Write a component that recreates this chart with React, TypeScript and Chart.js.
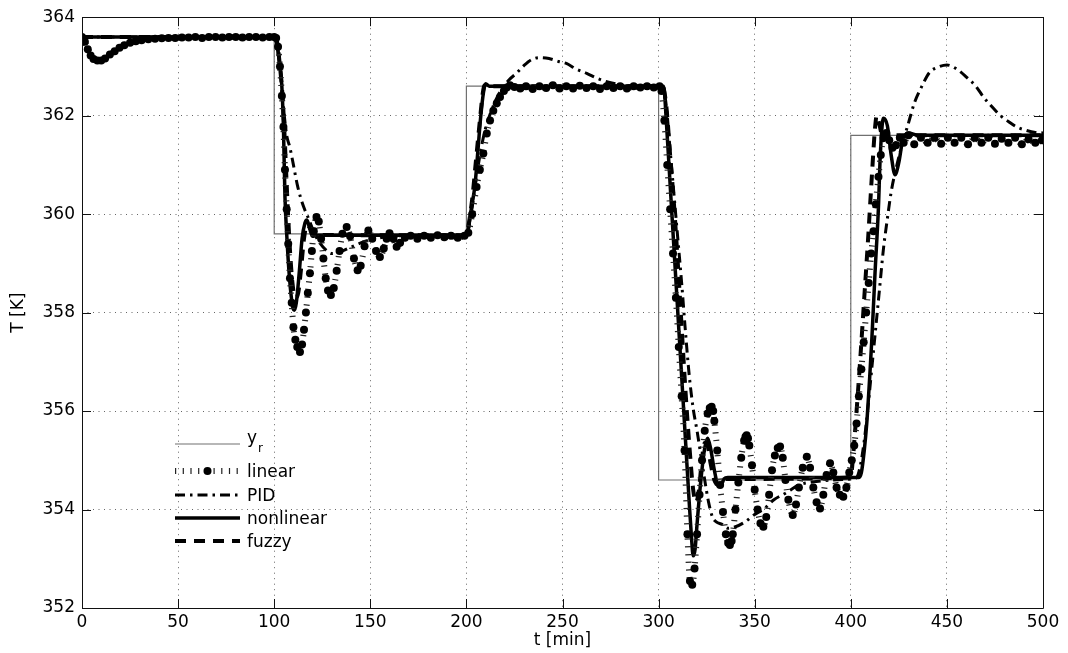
import React, { useEffect, useRef } from 'react';
import { Chart, registerables } from 'chart.js';

Chart.register(...registerables);

// ---------------- data (t [min], T [K]) ----------------
const X_MIN = 0;
const X_MAX = 500;
const X_STEP = 50;
const Y_MIN = 352;
const Y_MAX = 364;
const Y_STEP = 2;

const REFERENCE: [number, number][] = [
  [0, 363.6], [100, 363.6], [100, 359.6], [200, 359.6], [200, 362.6],
  [300, 362.6], [300, 354.6], [400, 354.6], [400, 361.6], [500, 361.6],
];

const LINEAR: [number, number][] = [
  [0, 363.6], [1.5, 363.5], [3, 363.35], [4.5, 363.22], [6, 363.15], [8, 363.12], [10, 363.12],
  [12, 363.16], [14.5, 363.24], [17, 363.31], [19.5, 363.38], [22, 363.43], [25, 363.48],
  [28, 363.51], [31, 363.53], [34.5, 363.55], [38, 363.56], [41.5, 363.57], [45, 363.58],
  [48.5, 363.58], [52, 363.59], [55.5, 363.59], [59, 363.6], [62.5, 363.58], [66, 363.6],
  [69.5, 363.6], [73, 363.59], [76.5, 363.6], [80, 363.6], [83.5, 363.59], [87, 363.6],
  [90.5, 363.6], [94, 363.59], [97.5, 363.6], [100, 363.6],
  [101, 363.58], [102, 363.4], [103, 363.0], [104, 362.4], [104.8, 361.77], [105.6, 360.9],
  [106.5, 360.1], [107.3, 359.4], [108.2, 358.7], [109.1, 358.2], [110, 357.7], [111, 357.45],
  [112, 357.3], [113.4, 357.2], [114.5, 357.35], [115.5, 357.65], [116.5, 358.0], [117.5, 358.4],
  [118.6, 358.8], [119.6, 359.25], [120.6, 359.65], [122, 359.94], [123.2, 359.85], [124.4, 359.5],
  [125.6, 359.1], [126.8, 358.7], [128, 358.45], [129.5, 358.36], [131, 358.5], [132.5, 358.85],
  [134, 359.25], [135.5, 359.6], [137.7, 359.74], [139.5, 359.55], [141.5, 359.1], [143.4, 358.86],
  [145, 358.95], [147, 359.35], [149, 359.67], [151, 359.5], [153, 359.25], [155, 359.13],
  [157, 359.3], [158.5, 359.5], [160, 359.61], [162, 359.5], [163.7, 359.34], [165.5, 359.42],
  [168, 359.52], [171, 359.56], [174.5, 359.5], [178, 359.56], [181.5, 359.52], [185, 359.57],
  [188.5, 359.53], [192, 359.56], [195.5, 359.52], [199, 359.56],
  [201, 359.62], [203, 360.0], [205.3, 360.55], [207, 360.9], [208.8, 361.23], [210.6, 361.64],
  [212.3, 361.9], [214, 362.1], [215.8, 362.25], [217.5, 362.38], [219.5, 362.5], [221, 362.57],
  [222.7, 362.62], [225, 362.58], [228, 362.55], [231, 362.6], [234.5, 362.54], [238, 362.6],
  [241.5, 362.56], [245, 362.62], [248.5, 362.55], [252, 362.6], [255.5, 362.55], [259, 362.61],
  [262.5, 362.56], [266, 362.6], [269.5, 362.54], [273, 362.6], [276.5, 362.56], [280, 362.6],
  [283.5, 362.55], [287, 362.6], [290.5, 362.57], [294, 362.6], [297.5, 362.57], [300.5, 362.6],
  [301.5, 362.5], [303, 361.9], [304.5, 361.0], [306, 360.1], [307.5, 359.2], [309, 358.3],
  [310.5, 357.3], [312, 356.3], [313.5, 355.2], [315, 353.5], [316.3, 352.55], [317.5, 352.47],
  [318.7, 352.8], [320, 353.5], [321.3, 354.3], [322.6, 355.0], [324, 355.6], [325.5, 355.95],
  [326.6, 356.06], [327.6, 356.09], [328.4, 356.0], [329, 355.8], [330.5, 355.2], [332, 354.5],
  [333.5, 353.95], [335, 353.5], [336.2, 353.32], [337.1, 353.28], [338, 353.36], [338.6, 353.5],
  [340, 354.0], [341.5, 354.55], [343, 355.05], [344.5, 355.4], [345.2, 355.48], [345.8, 355.51],
  [346.5, 355.45], [347.2, 355.3], [348.6, 354.9], [350, 354.4], [351.5, 354.0], [353, 353.72],
  [354.5, 353.65], [356, 353.85], [357.5, 354.3], [359, 354.8], [360.5, 355.1], [362, 355.25],
  [363.2, 355.28], [364.6, 355.05], [366, 354.6], [367.5, 354.2], [369.8, 353.89], [371.5, 354.1],
  [373, 354.45], [375, 354.85], [377.1, 355.07], [378.8, 354.85], [380.5, 354.45], [382.2, 354.15],
  [384, 354.02], [385.7, 354.3], [387.4, 354.7], [389.2, 354.94], [390.9, 354.75], [392.6, 354.45],
  [394.3, 354.3], [396.1, 354.26], [397.7, 354.45], [399.2, 354.75],
  [400.5, 355.0], [401.8, 355.3], [403, 355.75], [404.2, 356.3], [405.5, 356.85], [406.7, 357.4],
  [408, 358.0], [409.3, 358.6], [410.6, 359.2], [411.8, 359.65], [413, 360.2], [414.4, 360.76],
  [415.6, 361.2], [417, 361.55], [418.5, 361.65], [420, 361.5], [421.7, 361.35], [423.5, 361.4],
  [425.5, 361.55], [427.5, 361.45], [430, 361.6], [433, 361.42], [436.5, 361.55], [440, 361.45],
  [443.5, 361.55], [447, 361.43], [450.5, 361.55], [454, 361.45], [457.5, 361.55], [461, 361.42],
  [464.5, 361.55], [468, 361.45], [471.5, 361.55], [475, 361.43], [478.5, 361.53], [482, 361.45],
  [485.5, 361.55], [489, 361.42], [492.5, 361.52], [496, 361.45], [499.5, 361.5],
];

const PID: [number, number][] = [
  [0, 363.6], [100, 363.6], [101.5, 363.45], [103, 363.0], [104.5, 362.3], [106.5, 361.6],
  [108.2, 361.35], [110, 361.0], [112, 360.6], [114, 360.3], [116, 360.08], [118, 359.9],
  [121, 359.6], [124, 359.4], [127, 359.27], [130, 359.2], [134, 359.23], [140, 359.33],
  [146, 359.43], [155, 359.52], [165, 359.55], [200, 359.55],
  [202, 359.9], [204, 360.4], [206, 360.95], [208, 361.4], [210, 361.75], [213, 362.1],
  [217, 362.45], [222, 362.72], [226, 362.86], [230, 363.02], [234, 363.14], [238, 363.18],
  [243, 363.16], [248, 363.1], [252, 363.06], [257, 362.95], [262.6, 362.86], [268, 362.76],
  [273, 362.69], [279, 362.64], [285, 362.61], [292, 362.6], [300, 362.6],
  [302, 362.6], [304, 362.2], [306, 361.3], [308, 360.4], [310, 359.5], [312, 358.6],
  [314, 357.6], [316, 356.7], [318, 356.05], [320, 355.6], [322, 355.1], [324, 354.6],
  [326, 354.15], [328, 353.85], [330, 353.75], [333, 353.7], [336, 353.62], [340, 353.65],
  [345, 353.75], [350, 353.9], [355, 354.02], [360, 354.2], [366, 354.33], [373, 354.5],
  [380, 354.56], [390, 354.6], [400, 354.62],
  [403, 354.65], [405, 354.9], [407, 355.4], [409, 356.1], [411, 356.9], [413, 357.7],
  [415, 358.5], [417, 359.3], [419, 359.9], [421, 360.45], [424, 361.0], [427, 361.45],
  [430, 361.85], [433, 362.25], [437, 362.6], [441, 362.88], [445, 362.98], [450, 363.03],
  [455, 362.95], [460, 362.79], [465, 362.6], [469, 362.38], [473, 362.2], [477.6, 362.01],
  [482, 361.88], [486.3, 361.77], [491.5, 361.7], [496, 361.66], [500, 361.65],
];

const NONLINEAR: [number, number][] = [
  [0, 363.6], [100, 363.6], [101.3, 363.47], [102.5, 363.15], [103.9, 362.65], [104.8, 361.77],
  [105.6, 360.35], [106.5, 359.6], [107.9, 358.73], [109.6, 358.12], [110.5, 358.05],
  [111.5, 358.2], [113, 358.8], [114.5, 359.5], [116, 359.82], [117, 359.88], [118.5, 359.7],
  [120, 359.55], [122, 359.57], [200, 359.57],
  [201, 359.7], [202.5, 360.1], [204.5, 360.6], [206, 361.3], [207.5, 362.0], [209, 362.5],
  [210, 362.65], [212, 362.6], [300, 362.6],
  [302.6, 362.6], [304, 361.9], [306, 360.6], [308, 359.3], [310, 358.0], [312, 356.7],
  [314, 355.4], [316, 354.1], [317, 353.5], [318, 353.06], [319, 353.2], [320, 353.7],
  [322, 354.6], [324, 355.25], [325.5, 355.45], [327, 355.25], [329, 354.8], [331, 354.5],
  [332.5, 354.5], [334, 354.62], [336, 354.65], [404, 354.65],
  [405.5, 354.75], [407, 355.2], [408.3, 355.75], [410, 356.8], [411, 357.5], [412.6, 358.8],
  [414.4, 360.15], [415.3, 361.16], [417, 361.95], [419, 361.8], [421, 361.2], [423, 360.8],
  [425, 361.05], [427, 361.5], [430, 361.65], [435, 361.6], [500, 361.6],
];

const FUZZY: [number, number][] = [
  [0, 363.6], [100, 363.6], [101.5, 363.5], [103, 363.0], [104.5, 362.3], [105.5, 361.5],
  [106.5, 360.6], [108, 359.4], [109.5, 358.6], [111, 358.3], [112.5, 358.4], [114, 358.9],
  [115.5, 359.5], [117, 359.78], [119, 359.7], [121, 359.58], [200, 359.57],
  [201, 359.75], [203, 360.3], [205, 361.1], [207, 361.9], [208.5, 362.45], [209.5, 362.62],
  [211, 362.6], [300, 362.6],
  [302, 362.6], [304, 362.2], [306, 361.2], [308, 360.2], [310, 359.0], [312, 357.7],
  [314, 356.4], [316, 355.3], [318, 354.4], [319.5, 354.15], [321, 354.4], [322.5, 355.0],
  [324, 355.35], [325.5, 355.3], [327, 354.95], [329, 354.6], [331, 354.5], [334, 354.62],
  [400, 354.65],
  [401, 355.0], [403, 356.0], [405, 357.1], [407, 358.3], [409, 359.5], [411, 360.8],
  [412.5, 361.7], [413.5, 362.0], [415, 361.8], [417, 361.5], [419, 361.65], [422, 361.6],
  [500, 361.6],
];

const LEGEND_LABELS: [string, string][] = [
  ['y', 'r'], ['linear', ''], ['PID', ''], ['nonlinear', ''], ['fuzzy', ''],
];

const FONT = 'DejaVu Sans';

const toXY = (arr: [number, number][]) => arr.map(([x, y]) => ({ x, y }));

const framePlugin = {
  id: 'matlabFrame',
  afterDatasetsDraw(chart: any) {
    const { ctx, chartArea: a, scales } = chart;
    ctx.save();
    ctx.setLineDash([]);
    ctx.strokeStyle = '#111';
    ctx.lineWidth = 1;
    ctx.beginPath();
    ctx.rect(Math.round(a.left) + 0.5, Math.round(a.top) + 0.5,
      Math.round(a.right - a.left), Math.round(a.bottom - a.top));
    const L = 9;
    scales.x.ticks.forEach((t: any) => {
      const x = Math.round(scales.x.getPixelForValue(t.value)) + 0.5;
      ctx.moveTo(x, a.bottom); ctx.lineTo(x, a.bottom - L);
      ctx.moveTo(x, a.top); ctx.lineTo(x, a.top + L);
    });
    scales.y.ticks.forEach((t: any) => {
      const y = Math.round(scales.y.getPixelForValue(t.value)) + 0.5;
      ctx.moveTo(a.left, y); ctx.lineTo(a.left + L, y);
      ctx.moveTo(a.right, y); ctx.lineTo(a.right - L, y);
    });
    ctx.stroke();
    ctx.restore();
  },
};

const legendPlugin = {
  id: 'innerLegend',
  afterDraw(chart: any) {
    const { ctx, chartArea: a } = chart;
    const x0 = a.left + 93;
    const x1 = a.left + 158;
    const tx = a.left + 165;
    const offsets = [164, 137, 113, 90, 67];
    chart.data.datasets.forEach((ds: any, i: number) => {
      const y = a.bottom - offsets[i];
      ctx.save();
      ctx.strokeStyle = ds.borderColor;
      ctx.lineWidth = ds.borderWidth;
      ctx.setLineDash(ds.borderDash || []);
      ctx.lineCap = 'butt';
      ctx.beginPath();
      ctx.moveTo(x0, y);
      ctx.lineTo(x1, y);
      ctx.stroke();
      if (ds.pointRadius > 0) {
        ctx.setLineDash([]);
        ctx.fillStyle = ds.pointBackgroundColor;
        ctx.beginPath();
        ctx.arc((x0 + x1) / 2, y, ds.pointRadius, 0, Math.PI * 2);
        ctx.fill();
      }
      ctx.fillStyle = '#000';
      ctx.textBaseline = 'alphabetic';
      ctx.textAlign = 'left';
      const [main, sub] = LEGEND_LABELS[i];
      ctx.font = `17px "${FONT}"`;
      if (sub) {
        ctx.fillText(main, tx, y - 1.5);
        const w = ctx.measureText(main).width;
        ctx.font = `12px "${FONT}"`;
        ctx.fillText(sub, tx + w + 1, y + 8);
      } else {
        ctx.fillText(main, tx, y + 6);
      }
      ctx.restore();
    });
  },
};

export default function App() {
  const ref = useRef<HTMLCanvasElement>(null);
  useEffect(() => {
    const tickFont = { family: FONT, size: 17 };
    const chart = new Chart(ref.current as HTMLCanvasElement, {
      type: 'line',
      data: {
        datasets: [
          {
            label: 'y_r', data: toXY(REFERENCE), borderColor: '#707070', borderWidth: 1.2,
            pointRadius: 0, tension: 0, order: 5,
          } as any,
          {
            label: 'linear', data: toXY(LINEAR), borderColor: '#222', borderWidth: 6,
            borderDash: [1.2, 6.5], pointRadius: 4, pointBackgroundColor: '#000',
            pointBorderWidth: 0, cubicInterpolationMode: 'monotone', order: 1,
          },
          {
            label: 'PID', data: toXY(PID), borderColor: '#000', borderWidth: 3,
            borderDash: [10, 5, 2.5, 5], pointRadius: 0, cubicInterpolationMode: 'monotone', order: 3,
          },
          {
            label: 'nonlinear', data: toXY(NONLINEAR), borderColor: '#000', borderWidth: 3.5,
            pointRadius: 0, cubicInterpolationMode: 'monotone', order: 2,
          },
          {
            label: 'fuzzy', data: toXY(FUZZY), borderColor: '#000', borderWidth: 4,
            borderDash: [11, 8], pointRadius: 0, cubicInterpolationMode: 'monotone', order: 4,
          },
        ],
      },
      options: {
        responsive: false,
        animation: false,
        layout: { padding: { left: 0, top: 17, right: 25, bottom: 0 } },
        plugins: { legend: { display: false }, tooltip: { enabled: false } },
        scales: {
          x: {
            type: 'linear', min: X_MIN, max: X_MAX,
            afterFit: (s: any) => { s.height = 45; },
            ticks: { stepSize: X_STEP, font: tickFont, color: '#000', padding: 4, maxRotation: 0, autoSkip: false },
            grid: { color: '#666', lineWidth: 1, drawTicks: false },
            border: { display: false, dash: [1, 4.5] },
            title: { display: true, text: 't [min]', font: tickFont, color: '#000', padding: { top: 0, bottom: 2 } },
          },
          y: {
            type: 'linear', min: Y_MIN, max: Y_MAX,
            afterFit: (s: any) => { s.width = 82; },
            ticks: { stepSize: Y_STEP, font: tickFont, color: '#000', padding: 7 },
            grid: { color: '#666', lineWidth: 1, drawTicks: false },
            border: { display: false, dash: [1, 4.5] },
            title: { display: true, text: 'T [K]', font: tickFont, color: '#000', padding: { top: 8, bottom: 0 } },
          },
        },
      },
      plugins: [framePlugin, legendPlugin],
    } as any);
    return () => chart.destroy();
  }, []);
  return (
    <div style={{ position: 'fixed', left: 0, top: 0, width: 1068, height: 653, background: '#fff' }}>
      <canvas ref={ref} width={1068} height={653} style={{ display: 'block' }} />
    </div>
  );
}
